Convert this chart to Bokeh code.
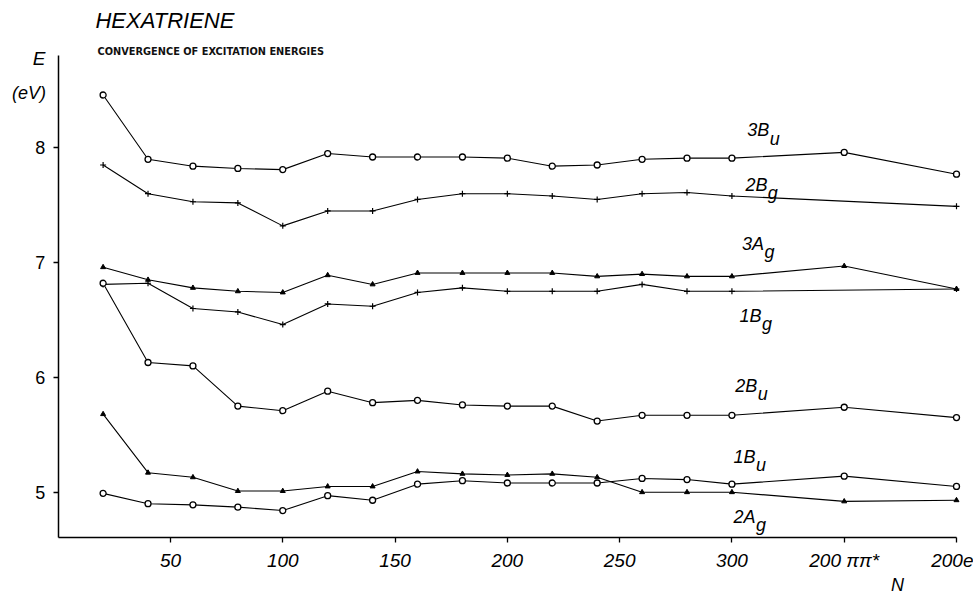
from bokeh.plotting import figure
from bokeh.models import FixedTicker, Label, Range1d
from bokeh.embed import file_html
from bokeh.resources import INLINE

# ---- data ----
N_full = [20, 40, 60, 80, 100, 120, 140, 160, 180, 200, 220, 240, 260, 280, 300, 350, 400]
N_bg = [20, 40, 60, 80, 100, 120, 140, 160, 180, 200, 220, 240, 260, 280, 300, 400]

E_3Bu = [8.46, 7.90, 7.84, 7.82, 7.81, 7.95, 7.92, 7.92, 7.92, 7.91, 7.84, 7.85, 7.90, 7.91, 7.91, 7.96, 7.77]
E_2Bg = [7.85, 7.60, 7.53, 7.52, 7.32, 7.45, 7.45, 7.55, 7.60, 7.60, 7.58, 7.55, 7.60, 7.61, 7.58, 7.49]
E_3Ag = [6.96, 6.85, 6.78, 6.75, 6.74, 6.89, 6.81, 6.91, 6.91, 6.91, 6.91, 6.88, 6.90, 6.88, 6.88, 6.97, 6.77]
E_1Bg = [6.81, 6.82, 6.60, 6.57, 6.46, 6.64, 6.62, 6.74, 6.78, 6.75, 6.75, 6.75, 6.81, 6.75, 6.75, 6.77]
E_2Bu = [6.82, 6.13, 6.10, 5.75, 5.71, 5.88, 5.78, 5.80, 5.76, 5.75, 5.75, 5.62, 5.67, 5.67, 5.67, 5.74, 5.65]
E_tri = [5.68, 5.17, 5.13, 5.01, 5.01, 5.05, 5.05, 5.18, 5.16, 5.15, 5.16, 5.13, 5.00, 5.00, 5.00, 4.92, 4.93]
E_circ = [4.99, 4.90, 4.89, 4.87, 4.84, 4.97, 4.93, 5.07, 5.10, 5.08, 5.08, 5.08, 5.12, 5.11, 5.07, 5.14, 5.05]

x_ticks = [50, 100, 150, 200, 250, 300, 350, 400]
x_tick_labels = ["50", "100", "150", "200", "250", "300", "200 ππ*", "200e"]
y_ticks = [5, 6, 7, 8]

# state labels: main text, subscript, x, baseline y
state_main = ["3B", "2B", "3A", "1B", "2B", "1B", "2A"]
state_sub = ["u", "g", "g", "g", "u", "u", "g"]
state_x = [306.8, 306.0, 304.5, 303.4, 301.5, 300.7, 300.7]
state_y = [8.151, 7.680, 7.164, 6.539, 5.929, 5.305, 4.782]

FONT = "Liberation Sans"

# axis extents (data units)
X_MIN, X_MAX = 0, 400
Y_MIN, Y_MAX = 4.605, 8.804

p = figure(width=973, height=597, output_backend="svg", toolbar_location=None,
           x_range=Range1d(-25.69, 407.57), y_range=Range1d(4.0828, 9.2831),
           min_border_left=0, min_border_right=0, min_border_top=0, min_border_bottom=0)
p.title.visible = False
p.outline_line_color = None
p.xgrid.visible = False
p.ygrid.visible = False
p.background_fill_color = "white"
p.border_fill_color = "white"

for ax in (p.xaxis[0], p.yaxis[0]):
    ax.axis_line_width = 1.5
    ax.axis_line_color = "black"
    ax.major_tick_line_color = "black"
    ax.major_tick_line_width = 1.3
    ax.major_tick_in = 0
    ax.major_tick_out = 5
    ax.minor_tick_line_color = None
    ax.major_label_text_font = FONT
    ax.major_label_text_color = "black"
    ax.major_label_text_font_size = "19px"

p.xaxis.fixed_location = Y_MIN
p.xaxis.bounds = (X_MIN, X_MAX)
p.xaxis.ticker = FixedTicker(ticks=x_ticks)
p.xaxis.major_label_overrides = {t: l for t, l in zip(x_ticks, x_tick_labels)}
p.xaxis.major_label_text_font_style = "italic"
p.xaxis.major_label_standoff = 7
p.yaxis.fixed_location = X_MIN
p.yaxis.bounds = (Y_MIN, Y_MAX)
p.yaxis.ticker = FixedTicker(ticks=y_ticks)
p.yaxis.major_label_standoff = 8
p.yaxis.major_label_text_font_size = "18px"

LW = 1.1
def circles(x, y):
    p.line(x, y, line_color="black", line_width=LW)
    p.scatter(x, y, marker="circle", size=6, line_color="black", fill_color="white", line_width=1.3)

def crosses(x, y):
    p.line(x, y, line_color="black", line_width=LW)
    p.scatter(x, y, marker="cross", size=6, line_color="black", line_width=1.2)

def triangles(x, y):
    p.line(x, y, line_color="black", line_width=LW)
    p.scatter(x, y, marker="triangle", size=5, line_color="black", fill_color="black")

circles(N_full, E_3Bu)
crosses(N_bg, E_2Bg)
triangles(N_full, E_3Ag)
crosses(N_bg, E_1Bg)
circles(N_full, E_2Bu)
triangles(N_full, E_tri)
circles(N_full, E_circ)

# state labels with subscripts
SUB_DX = 10.0
SUB_DY = 0.07
for m, s, x, y in zip(state_main, state_sub, state_x, state_y):
    p.add_layout(Label(x=x, y=y, text=m, text_font=FONT, text_font_style="italic",
                       text_font_size="18px", text_baseline="alphabetic", text_align="left",
                       text_color="black"))
    p.add_layout(Label(x=x + SUB_DX, y=y - SUB_DY, text=s, text_font=FONT, text_font_style="italic",
                       text_font_size="18px", text_baseline="alphabetic", text_align="left",
                       text_color="black"))

# titles and axis names
p.add_layout(Label(x=16.6, y=9.113, text="HEXATRIENE", text_font=FONT, text_font_style="italic",
                   text_font_size="22px", text_baseline="middle", text_align="left", text_color="black"))
p.add_layout(Label(x=17.5, y=8.839, text="CONVERGENCE OF EXCITATION ENERGIES", text_font="DejaVu Sans",
                   text_font_style="bold", text_font_size="9.8px", text_baseline="middle",
                   text_align="left", text_color="#111111"))
p.add_layout(Label(x=-5.7, y=8.78, text="E", text_font=FONT, text_font_style="italic",
                   text_font_size="19px", text_baseline="middle", text_align="right", text_color="black"))
p.add_layout(Label(x=-5.4, y=8.48, text="(eV)", text_font=FONT, text_font_style="italic",
                   text_font_size="18px", text_baseline="middle", text_align="right", text_color="black"))
p.add_layout(Label(x=373.7, y=4.19, text="N", text_font=FONT, text_font_style="italic",
                   text_font_size="18px", text_baseline="middle", text_align="center", text_color="black"))

open("out.html", "w").write(file_html(p, INLINE))
